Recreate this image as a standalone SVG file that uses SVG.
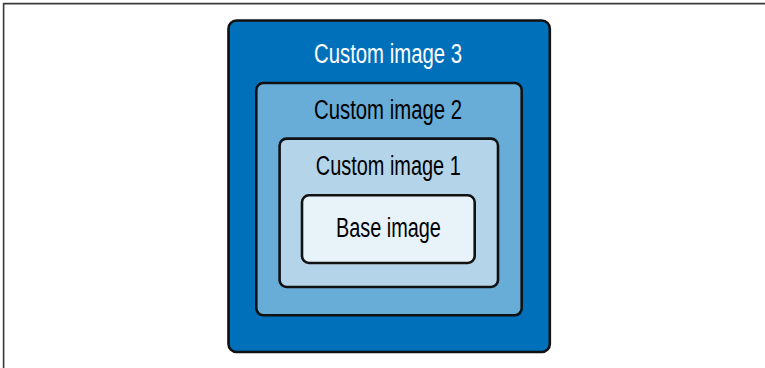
<svg xmlns="http://www.w3.org/2000/svg" width="765" height="368" viewBox="0 0 765 368">
  <style>
    .box { stroke: #111; stroke-width: 2.6; }
    .lbl { font-family: "Liberation Sans", Arial, sans-serif; font-size: 27px; text-anchor: middle; }
    .dark { fill: #000; }
    .light { fill: #fff; }
  </style>
  <rect width="765" height="368" fill="#fff"/>
  <!-- page frame -->
  <path d="M3.6,368 V3.6 H765" fill="none" stroke="#3a3a3a" stroke-width="1.6"/>

  <g id="custom-image-3">
    <rect class="box" x="228.5" y="20.5" width="321.3" height="331.5" rx="8" fill="#0070BB"/>
    <text class="lbl light" x="388" y="63" textLength="148" lengthAdjust="spacingAndGlyphs">Custom image 3</text>
  </g>
  <g id="custom-image-2">
    <rect class="box" x="256.3" y="83" width="265.4" height="232.3" rx="7" fill="#68ACD8"/>
    <text class="lbl dark" x="388" y="119.3" textLength="148" lengthAdjust="spacingAndGlyphs">Custom image 2</text>
  </g>
  <g id="custom-image-1">
    <rect class="box" x="279.6" y="138.6" width="218.4" height="148.4" rx="7" fill="#B4D4EA"/>
    <text class="lbl dark" x="388.3" y="175" textLength="145" lengthAdjust="spacingAndGlyphs">Custom image 1</text>
  </g>
  <g id="base-image">
    <rect class="box" x="302" y="195.3" width="172.7" height="67.7" rx="7" fill="#E8F2F9"/>
    <text class="lbl dark" x="388.4" y="236.7" textLength="105" lengthAdjust="spacingAndGlyphs">Base image</text>
  </g>
  <g id="connectors"/>
</svg>
